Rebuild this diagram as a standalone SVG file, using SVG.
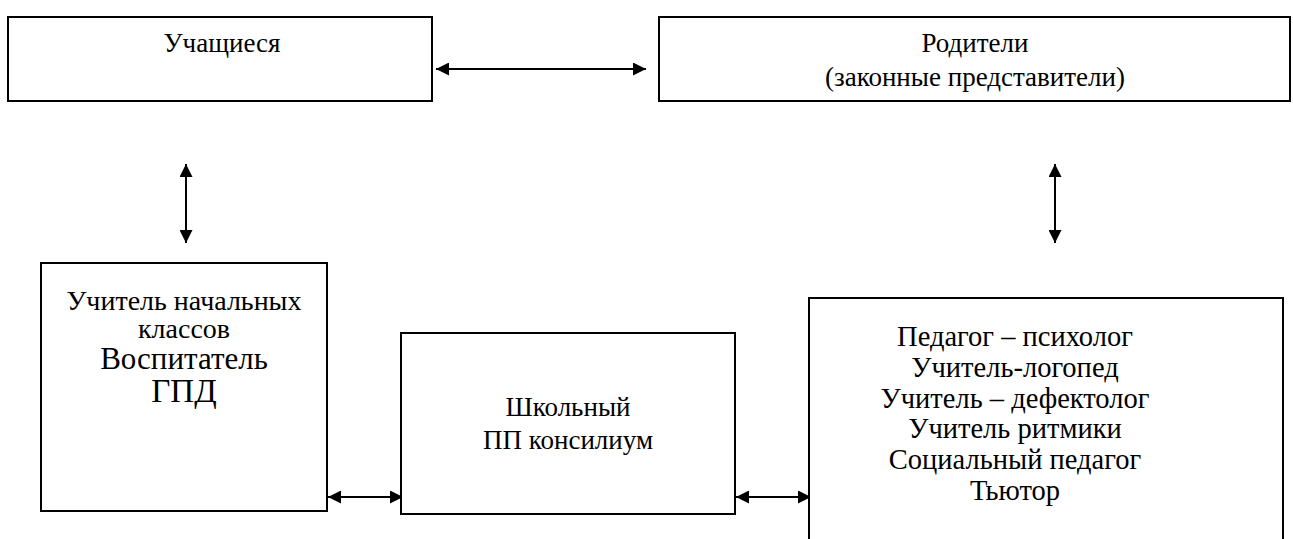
<svg xmlns="http://www.w3.org/2000/svg" width="1293" height="539" viewBox="0 0 1293 539">
<style>
.box{fill:#fff;stroke:#000;stroke-width:2}
.c{stroke:#000;stroke-width:2;fill:none}
</style>
<defs>
<marker id="ah" viewBox="0 0 13 13" refX="13" refY="6.5" markerWidth="13" markerHeight="13" markerUnits="userSpaceOnUse" orient="auto-start-reverse">
<path d="M0,0 L13,6.5 L0,13 Z" fill="#000"/>
</marker>
</defs>
<rect width="1293" height="539" fill="#fff"/>
<g id="connectors">
<line class="c" x1="436" y1="69" x2="646" y2="69" marker-start="url(#ah)" marker-end="url(#ah)"/>
<line class="c" x1="186" y1="164" x2="186" y2="243" marker-start="url(#ah)" marker-end="url(#ah)"/>
<line class="c" x1="1055" y1="164" x2="1055" y2="243" marker-start="url(#ah)" marker-end="url(#ah)"/>
<line class="c" x1="328" y1="497" x2="403" y2="497" marker-start="url(#ah)" marker-end="url(#ah)"/>
<line class="c" x1="736" y1="497" x2="811" y2="497" marker-start="url(#ah)" marker-end="url(#ah)"/>
</g>
<g font-family="Liberation Serif, Times New Roman, serif" font-size="27" text-anchor="middle" fill="#000">
<g id="n1">
<rect class="box" x="8" y="17" width="424" height="84"/>
<text x="222" y="52">Учащиеся</text>
</g>
<g id="n2">
<rect class="box" x="659" y="17" width="631" height="84"/>
<text x="975" y="52">Родители</text>
<text x="975" y="86">(законные представители)</text>
</g>
<g id="n3">
<rect class="box" x="41" y="263" width="286" height="248"/>
<text x="184" y="310" font-size="28">Учитель начальных</text>
<text x="184" y="338" font-size="28">классов</text>
<text x="184" y="369" font-size="31">Воспитатель</text>
<text x="184" y="402" font-size="33">ГПД</text>
</g>
<g id="n4">
<rect class="box" x="401" y="333" width="334" height="181"/>
<text x="568" y="416">Школьный</text>
<text x="568" y="449">ПП консилиум</text>
</g>
<g id="n5" font-size="28.5">
<rect class="box" x="809" y="298" width="474" height="260"/>
<text x="1015" y="346">Педагог – психолог</text>
<text x="1015" y="377">Учитель-логопед</text>
<text x="1015" y="408">Учитель – дефектолог</text>
<text x="1015" y="438">Учитель ритмики</text>
<text x="1015" y="469">Социальный педагог</text>
<text x="1015" y="500">Тьютор</text>
</g>
</g>
</svg>
